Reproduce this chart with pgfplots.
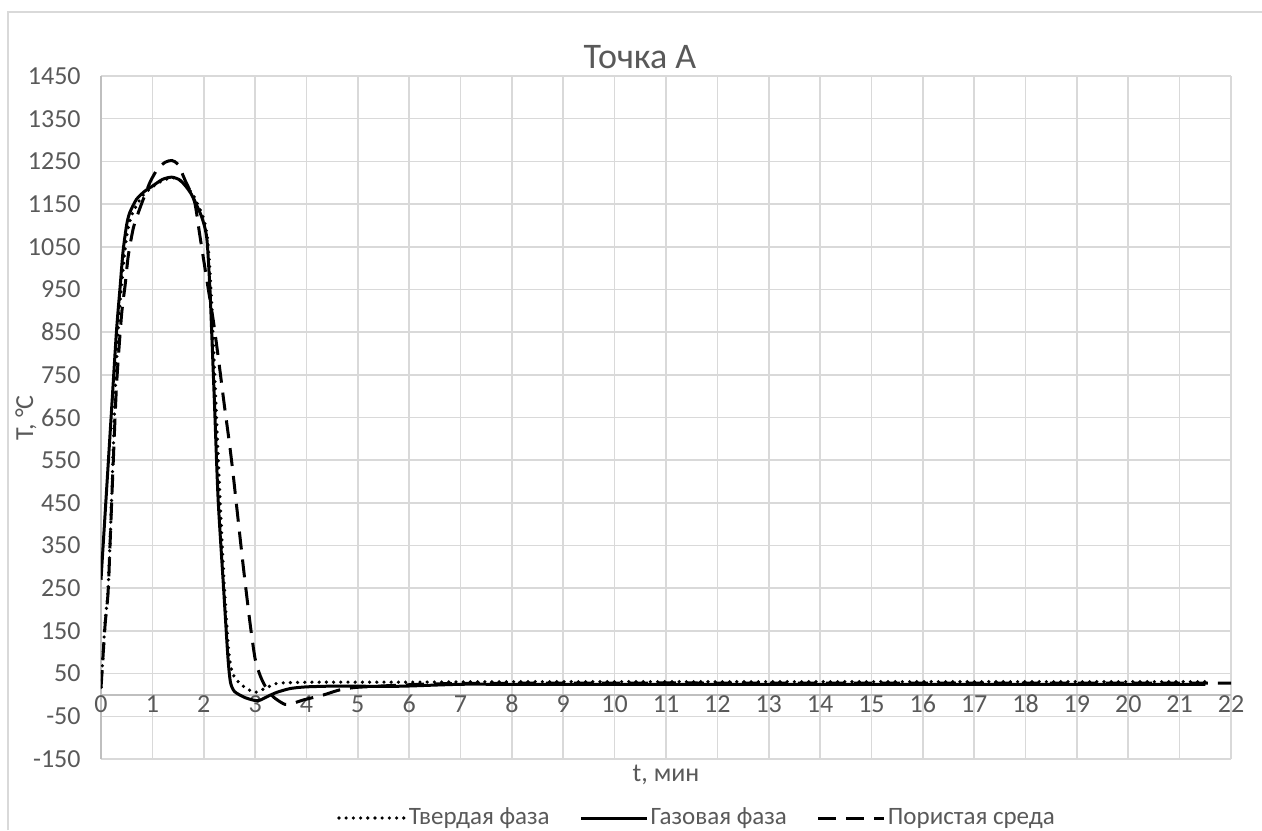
\documentclass[border=0pt]{standalone}
\usepackage{fontspec}
\setmainfont{Carlito}
\usepackage{pgfplots}
\pgfplotsset{compat=1.18}
\usetikzlibrary{calc}
\definecolor{txt}{HTML}{595959}
\definecolor{grd}{HTML}{D9D9D9}
\definecolor{axl}{HTML}{BFBFBF}

\begin{document}
\begin{tikzpicture}
\begin{axis}[
  name=ax, at={(0,0)}, anchor=south west,
  scale only axis, width=565pt, height=341.5pt,
  xmin=0, xmax=22, ymin=-150, ymax=1450,
  axis x line=middle, axis y line=left,
  axis line style={-, draw=axl, line width=0.8pt},
  xtick={0,1,...,22},
  ytick={-150,-50,50,150,250,350,450,550,650,750,850,950,1050,1150,1250,1350,1450},
  yticklabels={-150,-50,50,150,250,350,450,550,650,750,850,950,1050,1150,1250,1350,1450},
  major tick length=0pt,
  hide obscured x ticks=false,
  grid=major, major grid style={draw=grd, line width=0.8pt},
  tick label style={font=\fontsize{13}{15}\selectfont, text=txt},
  /pgf/number format/assume math mode=true,
  xticklabel style={anchor=base, inner sep=0pt, yshift=-9pt},
  yticklabel style={anchor=east, inner sep=0pt, xshift=-10pt},
  legend columns=3,
  legend style={at={(0.5274,0)}, anchor=center, yshift=-29.5pt, draw=none,
    font=\fontsize{12.5}{15}\selectfont, text=txt,
    /tikz/every even column/.append style={column sep=14pt},
    nodes={inner sep=1pt}},
  legend image code/.code={\draw[#1] (0pt,0pt) -- (33pt,0pt);},
]
% Твердая фаза
\addplot[black, line width=1.8pt, line cap=round, dash pattern=on 0pt off 3.6pt, smooth, tension=0.4]
  coordinates {
  (0,18)(0.08,170)(0.14,250)(0.21,470)(0.27,690)(0.33,850)(0.4,960)
  (0.5,1075)(0.6,1125)(0.8,1168)(1.0,1190)(1.2,1205)(1.4,1212)(1.6,1200)
  (1.8,1170)(2.0,1115)(2.08,1060)(2.14,950)(2.19,820)(2.28,560)(2.38,300)
  (2.48,110)(2.55,55)(2.64,35)(2.8,18)(3.0,6)(3.22,17)(3.42,27)(3.7,29)
  (4.2,30)(6,30)(8,31)(12,31)(16,31)(21.5,31)
  };
\addlegendentry{Твердая фаза}
% Газовая фаза
\addplot[black, line width=1.5pt, smooth, tension=0.4]
  coordinates {
  (0,270)(0.1,463)(0.2,657)(0.3,850)(0.37,953)(0.43,1040)(0.5,1102)
  (0.56,1130)(0.69,1161)(0.85,1180)(1.0,1192)(1.2,1208)(1.38,1213)
  (1.55,1205)(1.75,1175)(1.96,1120)(2.06,1070)(2.12,953)(2.16,835)
  (2.21,680)(2.28,459)(2.38,263)(2.47,90)(2.52,30)(2.6,8)(2.8,-6)
  (3.0,-13)(3.1,-12)(3.25,-3)(3.42,6)(3.68,15)(4.0,19)(4.65,21)
  (5.5,20)(6,21)(7,25)(8,25)(12,25)(16,25)(21.5,25)
  };
\addlegendentry{Газовая фаза}
% Пористая среда
\addplot[black, line width=1.5pt, dash pattern=on 9pt off 5pt, smooth, tension=0.4]
  coordinates {
  (0,16)(0.08,165)(0.14,245)(0.21,459)(0.3,720)(0.40,890)(0.47,960)
  (0.53,1028)(0.63,1094)(0.76,1141)(0.95,1200)(1.1,1232)(1.25,1248)
  (1.38,1252)(1.5,1243)(1.64,1205)(1.82,1156)(1.92,1080)(2.05,980)
  (2.19,874)(2.3,775)(2.4,680)(2.5,590)(2.57,520)(2.64,443)(2.77,301)
  (2.9,170)(3.0,85)(3.1,45)(3.2,20)(3.36,-5)(3.58,-22)(3.75,-19)(3.93,-12)
  (4.33,0)(4.65,12)(5,18)(6,24)(7,27)(10,28)(14,28)(18,28)(22,28)
  };
\addlegendentry{Пористая среда}
\end{axis}
\begin{scope}[shift={(ax.south west)}]
  \draw[grd, line width=0.8pt] (-46.5pt,-35.5pt) -- (-46.5pt,373.5pt) -- (580.5pt,373.5pt);
  \node[text=txt, font=\fontsize{18}{21}\selectfont] at (269.5pt,351pt) {Точка А};
  \node[text=txt, font=\fontsize{13}{15}\selectfont, rotate=90] at (-37.5pt,170.5pt) {Т, °С};
  \node[text=txt, font=\fontsize{13}{15}\selectfont] at (282.5pt,-8pt) {t, мин};
\end{scope}
\pgfresetboundingbox
\path[use as bounding box] ($(ax.south west)+(-50.5pt,-35.5pt)$) rectangle +(631pt,415pt);
\end{tikzpicture}
\end{document}
